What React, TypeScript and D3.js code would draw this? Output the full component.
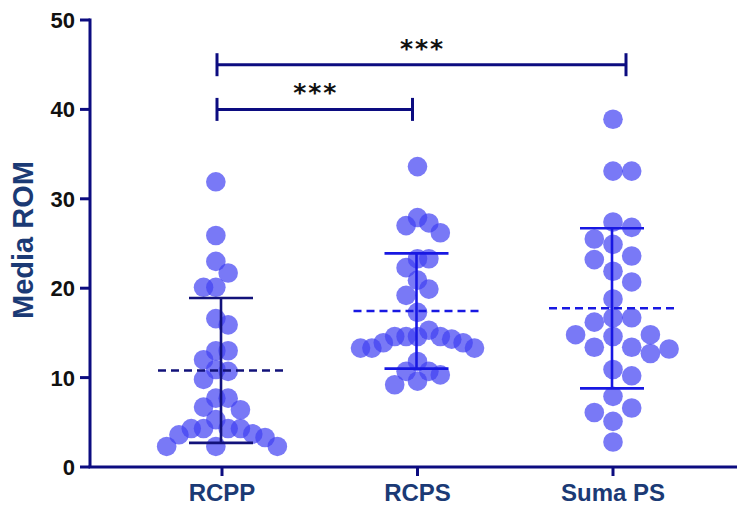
import React from "react";
import * as d3 from "d3";

const categories = ["RCPP", "RCPS", "Suma PS"];

// values, one per subject
const rcppValues = [
  31.9, 25.9, 23.0, 21.7, 20.1, 20.1, 16.6, 15.9, 13.0, 13.0, 12.0, 10.9, 10.7, 9.8, 7.7,
  7.7, 6.7, 6.4, 5.3, 4.3, 4.3, 4.3, 4.3, 3.3, 3.7, 3.6, 2.3, 2.3, 2.3,
];
const rcpsValues = [
  33.6, 27.9, 27.3, 27.0, 26.2, 23.3, 23.3, 22.3, 20.9, 19.9, 19.2, 17.3, 14.6, 13.9, 13.9,
  14.6, 13.3, 13.3, 13.3, 14.6, 15.3, 14.3, 14.6, 11.8, 10.7, 10.3, 10.7, 9.6, 9.2,
];
const sumaPsValues = [
  38.9, 33.1, 33.1, 27.4, 26.8, 25.5, 24.9, 23.6, 23.2, 21.9, 20.7, 18.8, 16.7, 16.7, 16.2,
  14.6, 14.8, 14.8, 13.4, 13.4, 13.2, 12.7, 10.9, 10.2, 7.9, 6.6, 6.1, 5.1, 2.8,
];

const groupMeans = [10.8, 17.45, 17.75];
const groupSDs = [8.1, 6.45, 8.95];

const yTicks = [0, 10, 20, 30, 40, 50];

const comparisons = [
  { from: "RCPP", to: "RCPS", level: 40, label: "***" },
  { from: "RCPP", to: "Suma PS", level: 45, label: "***" },
];

const W = 737;
const H = 507;
const AXIS = "#0c0c80";
const LABEL = "#1b3a75";
const FONT = "'Liberation Sans', Arial, sans-serif";

// column spacing and phase per group, like GraphPad's scatter spread
const spread = [
  { step: 12.3, phase: 0.5 },
  { step: 11.4, phase: 0 },
  { step: 18.7, phase: 0 },
];
const barColors = ["#12127a", "#1818e2", "#1818e2"];

function swarm(values: number[], y: (v: number) => number, step: number, phase: number) {
  const minDy = 18;
  const cands: number[] = [];
  for (let k = 0; k < 14; k++) {
    if (phase) cands.push(-(k + 0.5), k + 0.5);
    else if (k === 0) cands.push(0);
    else cands.push(k, -k);
  }
  const order = values.map((_, i) => i).sort((a, b) => values[b] - values[a]);
  const placed: { col: number; py: number }[] = [];
  const out: number[] = new Array(values.length).fill(0);
  order.forEach((i) => {
    const py = y(values[i]);
    const col = cands.find((c) => !placed.some((p) => p.col === c && Math.abs(p.py - py) < minDy)) ?? 0;
    placed.push({ col, py });
    out[i] = col * step;
  });
  return out;
}

export default function App() {
  const y = d3.scaleLinear().domain([0, 50]).range([467, 20]);
  const x = d3.scalePoint<string>().domain(categories).range([222, 613]);
  const groups = [rcppValues, rcpsValues, sumaPsValues];
  const x0 = 90;

  return (
    <svg width={W} height={H} style={{ position: "absolute", left: 0, top: 0, background: "#fff" }}>
      {/* y axis */}
      <line x1={x0} x2={x0} y1={y(50) - 1.5} y2={y(0)} stroke={AXIS} strokeWidth={3} />
      {yTicks.map((t) => (
        <g key={t}>
          <line x1={x0 - 10} x2={x0} y1={y(t)} y2={y(t)} stroke={AXIS} strokeWidth={3} />
          <text x={x0 - 15} y={y(t)} dy="0.36em" textAnchor="end" fontFamily={FONT} fontWeight="bold" fontSize={22} fill="#111">
            {t}
          </text>
        </g>
      ))}
      <text
        transform={`translate(33,240) rotate(-90)`}
        textAnchor="middle"
        fontFamily={FONT}
        fontWeight="bold"
        fontSize={29}
        fill={LABEL}
      >
        Media ROM
      </text>

      {/* x axis */}
      <line x1={x0 - 1.5} x2={W} y1={y(0)} y2={y(0)} stroke={AXIS} strokeWidth={3} />
      {categories.map((c) => (
        <g key={c}>
          <line x1={x(c)!} x2={x(c)!} y1={y(0)} y2={y(0) + 9} stroke={AXIS} strokeWidth={3} />
          <text x={x(c)!} y={y(0) + 34} textAnchor="middle" fontFamily={FONT} fontWeight="bold" fontSize={24} fill={LABEL}>
            {c}
          </text>
        </g>
      ))}

      {/* dots */}
      {groups.map((vals, gi) => {
        const offs = swarm(vals, y, spread[gi].step, spread[gi].phase);
        const cx = x(categories[gi])!;
        return (
          <g key={gi}>
            {vals.map((v, i) => (
              <circle key={i} cx={cx + offs[i]} cy={y(v)} r={9.8} fill="#4040f2" fillOpacity={0.7} />
            ))}
          </g>
        );
      })}

      {/* mean and SD */}
      {groups.map((_, gi) => {
        const cx = x(categories[gi])! - 1;
        const m = groupMeans[gi];
        const sd = groupSDs[gi];
        const col = barColors[gi];
        return (
          <g key={gi} stroke={col} strokeWidth={2.6}>
            <line x1={cx - 63} x2={cx + 63} y1={y(m)} y2={y(m)} strokeDasharray="8,5" />
            <line x1={cx} x2={cx} y1={y(m + sd)} y2={y(m - sd)} />
            <line x1={cx - 32} x2={cx + 32} y1={y(m + sd)} y2={y(m + sd)} />
            <line x1={cx - 32} x2={cx + 32} y1={y(m - sd)} y2={y(m - sd)} />
          </g>
        );
      })}

      {/* significance brackets */}
      {comparisons.map((cmp, i) => {
        const xa = x(cmp.from)! - 5;
        const xb = x(cmp.to)! + (cmp.to === "Suma PS" ? 13 : -5);
        const yy = y(cmp.level);
        return (
          <g key={i}>
            <g stroke={AXIS} strokeWidth={3}>
              <line x1={xa} x2={xb} y1={yy} y2={yy} />
              <line x1={xa} x2={xa} y1={yy - 11.5} y2={yy + 11.5} />
              <line x1={xb} x2={xb} y1={yy - 11.5} y2={yy + 11.5} />
            </g>
            <text x={(xa + xb) / 2 + 1} y={yy - 8} textAnchor="middle" fontFamily="'DejaVu Sans', sans-serif" fontWeight="bold" fontSize={25} letterSpacing={2} fill="#111">
              {cmp.label}
            </text>
          </g>
        );
      })}
    </svg>
  );
}
